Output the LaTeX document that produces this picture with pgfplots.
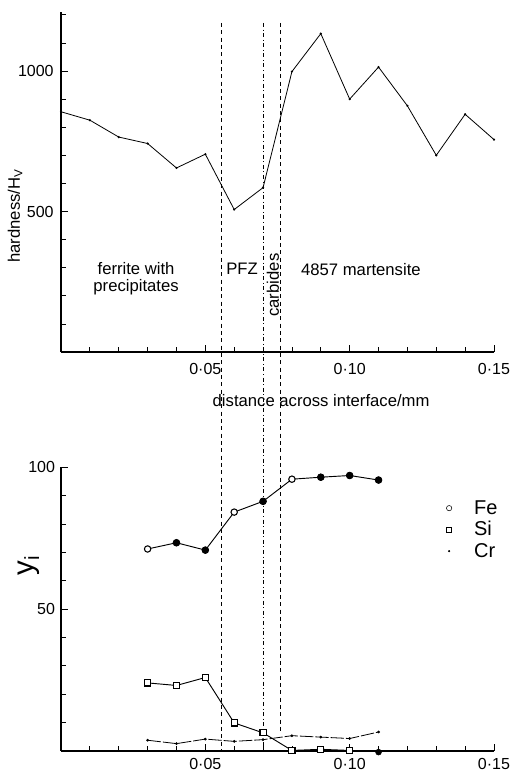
\documentclass[border=0pt]{standalone}
\usepackage{fontspec}
\setmainfont{Liberation Sans}
\usepackage{pgfplots}
\pgfplotsset{compat=1.18}
\begin{document}
\begin{tikzpicture}
\useasboundingbox (0,0) rectangle (382.5pt,-585.75pt);
\pgfplotsset{
  mystyle/.style={
    scale only axis, width=324.75pt, xmin=0, xmax=0.15,
    axis x line*=bottom, axis y line*=left,
    axis line style={-, line width=0.9pt},
    xtick={0.05,0.10,0.15}, xticklabels={0·05,0·10,0·15},
    minor xtick={0.01,0.02,0.03,0.04,0.06,0.07,0.08,0.09,0.11,0.12,0.13,0.14},
    tick style={black, line width=0.6pt},
    major tick length=5pt, minor tick length=4pt,
    tick align=inside,
    font=\fontsize{12.5}{15}\selectfont,
    tick label style={font=\fontsize{12}{14}\selectfont},
    clip=false,
  }
}
% ---------- top: hardness ----------
\begin{axis}[mystyle, at={(45.75pt,-264pt)}, anchor=south west, height=255pt,
  ymin=0, ymax=1210, ytick={500,1000}, yticklabels={500,1000},
  minor ytick={100,200,300,400,600,700,800,900,1100,1200},
  xticklabel style={yshift=-5pt}, yticklabel style={xshift=-2pt}]
\addplot[black, line width=0.6pt, mark=*, mark size=0.5pt] coordinates {
 (0.00,855) (0.01,825) (0.02,765) (0.03,742) (0.04,655) (0.05,704)
 (0.06,507) (0.07,585) (0.08,998) (0.09,1133) (0.10,900) (0.11,1014)
 (0.12,876) (0.13,700) (0.14,846) (0.15,756)};
\draw[black, line width=0.5pt, dash pattern=on 3pt off 2.5pt] (axis cs:0.0557,1171) -- (axis cs:0.0557,-1420);
\draw[black, line width=0.5pt, dash pattern=on 3pt off 2pt on 0.6pt off 2pt] (axis cs:0.0700,1171) -- (axis cs:0.0700,-1420);
\draw[black, line width=0.5pt, dash pattern=on 3pt off 2.5pt] (axis cs:0.0759,1171) -- (axis cs:0.0759,-1356);
\node[align=center, inner sep=0pt] at (axis cs:0.026,262) {ferrite with\\[-2pt]precipitates};
\node[inner sep=0pt] at (axis cs:0.0627,295) {PFZ};
\node[rotate=90, inner sep=0pt] at (axis cs:0.0734,238) {carbides};
\node[inner sep=0pt] at (axis cs:0.1039,295) {4857 martensite};
\node[rotate=90, inner sep=0pt] at (rel axis cs:-0.106,0.40) {hardness/H\textsubscript{V}};
\node[inner sep=0pt] at (axis cs:0.0901,-171) {distance across interface/mm};
\end{axis}
% ---------- bottom: composition ----------
\begin{axis}[mystyle, at={(45.75pt,-563.25pt)}, anchor=south west, height=212.8pt,
  ymin=0, ymax=100, ytick={50,100}, yticklabels={50,100},
  minor ytick={10,20,30,40,60,70,80,90},
  xticklabel style={yshift=-2pt}, yticklabel style={xshift=-1pt},
  legend style={draw=none, fill=none, at={(axis cs:0.1323,89.4)}, anchor=north west,
    font=\fontsize{15}{16}\selectfont, row sep=0pt, inner sep=0pt},
  legend image code/.code={\path (-0.15cm,0cm) (0.58cm,0cm); \draw[#1] plot coordinates {(0cm,0cm)};},
  legend cell align=left]
\addlegendimage{only marks, mark=o, mark size=2pt, black}
\addlegendentry{Fe}
\addlegendimage{only marks, mark=square, mark size=1.8pt, black}
\addlegendentry{Si}
\addlegendimage{only marks, mark=*, mark size=0.6pt, black}
\addlegendentry{Cr}
% Fe
\addplot[black, line width=0.7pt, mark=*, mark size=2.4pt, mark options={fill=white, line width=0.8pt}] coordinates {
 (0.03,71.2) (0.04,73.4) (0.05,70.8) (0.06,84.2) (0.07,88.0)
 (0.08,95.8) (0.09,96.5) (0.10,97.1) (0.11,95.5)};
\addplot[black, only marks, mark=*, mark size=2.4pt, forget plot] coordinates {
 (0.04,73.4) (0.05,70.8) (0.07,88.0) (0.09,96.5) (0.10,97.1) (0.11,95.5)};
% Si
\addplot[black, line width=0.7pt, mark=square*, mark size=2.3pt, mark options={fill=white, line width=0.8pt}] coordinates {
 (0.03,24.0) (0.04,23.1) (0.05,25.9) (0.06,9.9) (0.07,6.4)
 (0.08,0.2) (0.09,0.6) (0.10,0.2)};
\addplot[black, only marks, mark=*, mark size=2.2pt, forget plot] coordinates {(0.11,-0.4)};
% Cr
\addplot[black, line width=0.6pt, dash pattern=on 10pt off 1.5pt, mark=*, mark size=0.7pt, mark options={solid}] coordinates {
 (0.03,3.8) (0.04,2.6) (0.05,4.2) (0.06,3.4) (0.07,4.0)
 (0.08,5.4) (0.09,4.9) (0.10,4.4) (0.11,6.7)};
\node[rotate=90, inner sep=0pt, font=\fontsize{22}{24}\selectfont] at (rel axis cs:-0.074,0.655) {y\textsubscript{i}};
\end{axis}
\end{tikzpicture}
\end{document}
